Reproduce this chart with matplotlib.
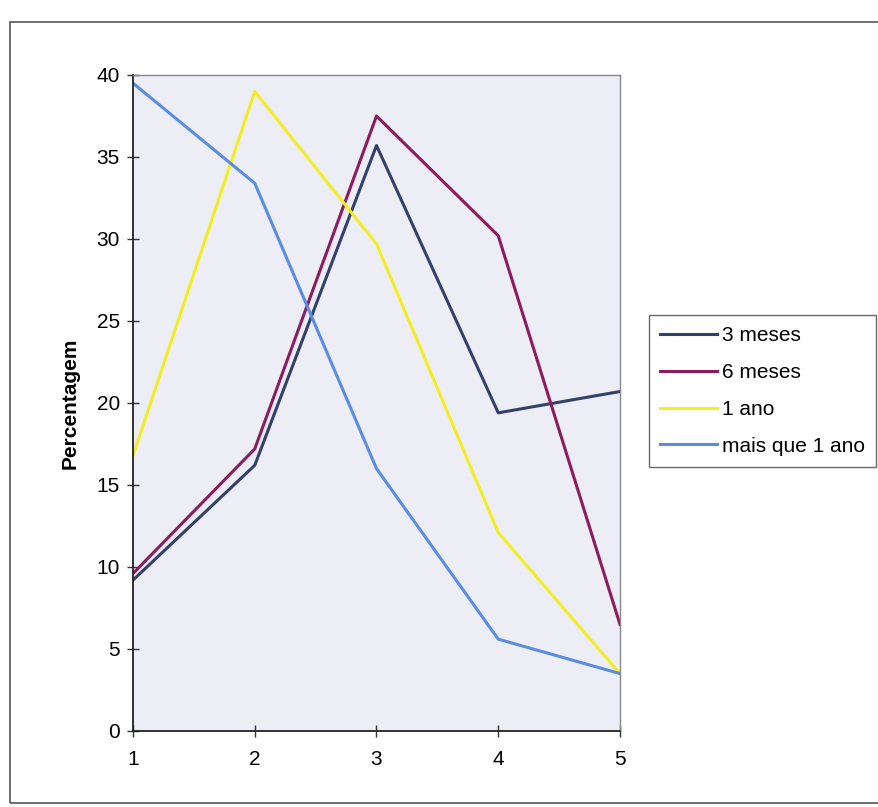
import matplotlib.pyplot as plt
from matplotlib.patches import Rectangle

plt.rcParams['font.family'] = ['Liberation Sans', 'DejaVu Sans']

# ======= Dados =======
categorias = [1, 2, 3, 4, 5]
tres_meses = [9.2, 16.2, 35.7, 19.4, 20.7]
seis_meses = [9.6, 17.2, 37.5, 30.2, 6.5]
um_ano = [16.8, 39.0, 29.7, 12.1, 3.5]
mais_um_ano = [39.5, 33.4, 16.0, 5.6, 3.5]

series = [
    ('3 meses', tres_meses, '#33406A'),
    ('6 meses', seis_meses, '#8C1C5C'),
    ('1 ano', um_ano, '#F2EE22'),
    ('mais que 1 ano', mais_um_ano, '#5A8DE0'),
]

# ======= Figura =======
fig = plt.figure(figsize=(8.79, 8.07), dpi=100, facecolor='white')
ax = fig.add_axes([133 / 879, 1 - 731 / 807, (620 - 133) / 879, (731 - 75) / 807])
ax.set_facecolor('#EDEDF5')

for nome, valores, cor in series:
    ax.plot(categorias, valores, color=cor, lw=2.2, label=nome)

ax.set_xlim(1, 5)
ax.set_ylim(0, 40)
ax.set_yticks(range(0, 41, 5))
ax.set_xticks(categorias)
ax.tick_params(axis='both', direction='inout', length=9, width=1, labelsize=15, color='#333333')
ax.tick_params(axis='x', pad=9)
ax.tick_params(axis='y', pad=5)

for lado in ['left', 'bottom']:
    ax.spines[lado].set_color('#222222')
    ax.spines[lado].set_linewidth(1.3)
for lado in ['top', 'right']:
    ax.spines[lado].set_color('#888888')
    ax.spines[lado].set_linewidth(1.0)

ax.set_ylabel('Percentagem', fontsize=15, fontweight='bold', labelpad=12)

leg = ax.legend(loc='center left', bbox_to_anchor=(649 / 879, 1 - 391 / 807),
                bbox_transform=fig.transFigure, fontsize=15, frameon=True,
                fancybox=False, edgecolor='#444444', handlelength=2.7,
                labelspacing=0.85, handletextpad=0.25, borderpad=0.55,
                borderaxespad=0)
leg.get_frame().set_linewidth(1.0)

# moldura externa do grafico
fig.patches.append(Rectangle((10 / 879, 1 - 803 / 807), 1.0, (803 - 22) / 807,
                             transform=fig.transFigure, fill=False,
                             edgecolor='#555555', lw=1.2))

fig.savefig('out.png', dpi=100)
